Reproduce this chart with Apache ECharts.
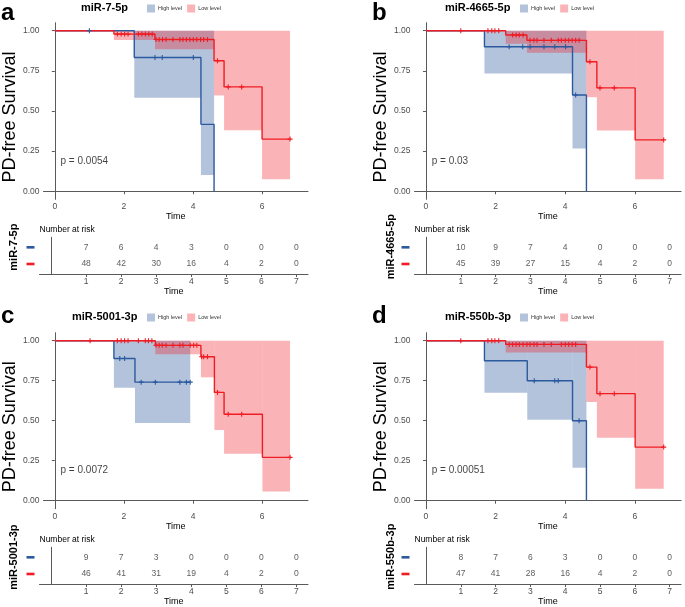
<!DOCTYPE html>
<html><head><meta charset="utf-8">
<script src="https://cdn.jsdelivr.net/npm/echarts@6/dist/echarts.min.js"></script>
<style>html,body{margin:0;padding:0;background:#fff}#c{width:685px;height:607px}</style>
</head><body><div id="c"></div>
<script>
// ---------- data ----------
const panelLetters = ['a', 'b', 'c', 'd'];
const panelTitles = ['miR-7-5p', 'miR-4665-5p', 'miR-5001-3p', 'miR-550b-3p'];
const pValueLabels = ['p = 0.0054', 'p = 0.03', 'p = 0.0072', 'p = 0.00051'];
const levelNames = ['High level', 'Low level'];
const timeTicks = [0, 2, 4, 6];
const survTicks = [0, 0.25, 0.5, 0.75, 1];
const riskTimes = [1, 2, 3, 4, 5, 6, 7];
const pValuePos = [0.15, 0.19];

// panel a (miR-7-5p)
const highTimesA = [0, 2.30, 4.23, 4.61];
const highSurvA = [1, 0.833, 0.417, 0];
const highCensorA = [1.0, 2.90, 3.11, 4.01];
const highBandA = [[2.30, 4.23, 0.582, 1.0], [4.23, 4.61, 0.102, 1.0]];
const lowTimesA = [0, 1.71, 2.90, 4.61, 4.90, 6.00, 6.81];
const lowSurvA = [1, 0.979, 0.945, 0.813, 0.650, 0.325, 0.325];
const lowCensorA = [1.81, 1.92, 2.02, 2.12, 2.42, 2.52, 2.62, 2.72, 2.82, 2.93, 3.02, 3.12, 3.22, 3.42, 3.62, 3.71, 3.81, 3.91, 4.01, 4.11, 4.22, 4.31, 4.42, 4.71, 5.02, 5.41, 6.81];
const lowBandA = [[1.71, 2.90, 0.942, 1.0], [2.90, 4.61, 0.884, 1.0], [4.61, 4.90, 0.597, 1.0], [4.90, 6.00, 0.380, 1.0], [6.00, 6.81, 0.075, 1.0]];
const riskHighA = [7, 6, 4, 3, 0, 0, 0];
const riskLowA = [48, 42, 30, 16, 4, 2, 0];

// panel b (miR-4665-5p)
const highTimesB = [0, 1.68, 4.21, 4.61];
const highSurvB = [1, 0.90, 0.60, 0];
const highCensorB = [2.39, 2.78, 2.99, 3.39, 3.70, 4.01, 4.30];
const highBandB = [[1.68, 4.21, 0.734, 1.0], [4.21, 4.61, 0.266, 1.0]];
const lowTimesB = [0, 2.29, 2.90, 4.61, 4.91, 6.01, 6.83];
const lowSurvB = [1, 0.973, 0.940, 0.807, 0.644, 0.320, 0.320];
const lowCensorB = [1.0, 1.78, 1.89, 1.98, 2.09, 2.49, 2.59, 2.68, 2.79, 2.99, 3.10, 3.19, 3.39, 3.60, 3.80, 3.89, 4.0, 4.10, 4.20, 4.30, 4.40, 4.71, 5.0, 5.41, 6.83];
const lowBandB = [[2.29, 2.90, 0.919, 1.0], [2.90, 4.61, 0.863, 1.0], [4.61, 4.91, 0.586, 1.0], [4.91, 6.01, 0.378, 1.0], [6.01, 6.83, 0.075, 1.0]];
const riskHighB = [10, 9, 7, 4, 0, 0, 0];
const riskLowB = [45, 39, 27, 15, 4, 2, 0];

// panel c (miR-5001-3p)
const highTimesC = [0, 1.71, 2.32, 3.92];
const highSurvC = [1, 0.889, 0.741, 0.741];
const highCensorC = [1.88, 2.02, 2.50, 2.91, 3.62, 3.81, 3.92];
const highBandC = [[1.71, 2.32, 0.706, 1.0], [2.32, 3.92, 0.485, 1.0]];
const lowTimesC = [0, 2.91, 4.23, 4.62, 4.90, 6.01, 6.81];
const lowSurvC = [1, 0.971, 0.900, 0.677, 0.540, 0.271, 0.271];
const lowCensorC = [1.02, 1.81, 1.92, 2.02, 2.12, 2.42, 2.62, 2.71, 2.81, 2.93, 3.02, 3.11, 3.22, 3.42, 3.62, 3.71, 3.92, 4.02, 4.11, 4.25, 4.31, 4.42, 4.71, 5.02, 5.41, 6.81];
const lowBandC = [[2.91, 4.23, 0.915, 1.0], [4.23, 4.62, 0.771, 1.0], [4.62, 4.90, 0.442, 1.0], [4.90, 6.01, 0.294, 1.0], [6.01, 6.81, 0.058, 1.0]];
const riskHighC = [9, 7, 3, 0, 0, 0, 0];
const riskLowC = [46, 41, 31, 19, 4, 2, 0];

// panel d (miR-550b-3p)
const highTimesD = [0, 1.68, 2.91, 4.21, 4.61];
const highSurvD = [1, 0.875, 0.750, 0.500, 0];
const highCensorD = [3.11, 3.70, 3.80, 4.40];
const highBandD = [[1.68, 2.91, 0.675, 1.0], [2.91, 4.21, 0.506, 1.0], [4.21, 4.61, 0.206, 1.0]];
const lowTimesD = [0, 2.29, 4.61, 4.91, 6.01, 6.83];
const lowSurvD = [1, 0.977, 0.835, 0.669, 0.335, 0.335];
const lowCensorD = [1.0, 1.78, 1.89, 1.98, 2.09, 2.39, 2.49, 2.59, 2.68, 2.79, 2.90, 2.99, 3.10, 3.19, 3.39, 3.60, 3.89, 4.0, 4.10, 4.20, 4.30, 4.71, 5.0, 5.41, 6.83];
const lowBandD = [[2.29, 4.61, 0.927, 1.0], [4.61, 4.91, 0.617, 1.0], [4.91, 6.01, 0.394, 1.0], [6.01, 6.83, 0.075, 1.0]];
const riskHighD = [8, 7, 6, 3, 0, 0, 0];
const riskLowD = [47, 41, 28, 16, 4, 2, 0];

// ---------- assemble ----------
const panels = [
  { high: [highTimesA, highSurvA, highCensorA, highBandA, riskHighA], low: [lowTimesA, lowSurvA, lowCensorA, lowBandA, riskLowA] },
  { high: [highTimesB, highSurvB, highCensorB, highBandB, riskHighB], low: [lowTimesB, lowSurvB, lowCensorB, lowBandB, riskLowB] },
  { high: [highTimesC, highSurvC, highCensorC, highBandC, riskHighC], low: [lowTimesC, lowSurvC, lowCensorC, lowBandC, riskLowC] },
  { high: [highTimesD, highSurvD, highCensorD, highBandD, riskHighD], low: [lowTimesD, lowSurvD, lowCensorD, lowBandD, riskLowD] }
];

const layout = [
  { left: 39.5, width: 268.5, top: 22.7, height: 176.6, tTop: 237.3, letterLeft: 1, letterTop: 1, titleLeft: 81, titleTop: 2.5, legLeft: 147, legTop: 4.5, sideGap: 20.5, sideShift: 17 },
  { left: 414.5, width: 266.6, top: 22.7, height: 176.6, tTop: 237.3, letterLeft: 372, letterTop: 1, titleLeft: 445, titleTop: 2.5, legLeft: 520, legTop: 4.5, sideGap: 18, sideShift: 18 },
  { left: 39.5, width: 268.5, top: 332.7, height: 176.0, tTop: 547.3, letterLeft: 1, letterTop: 304, titleLeft: 72, titleTop: 311.5, legLeft: 147, legTop: 313.5, sideGap: 20.5, sideShift: 17 },
  { left: 414.5, width: 266.6, top: 332.7, height: 176.0, tTop: 547.3, letterLeft: 372, letterTop: 304, titleLeft: 445, titleTop: 311.5, legLeft: 520, legTop: 313.5, sideGap: 18, sideShift: 18 }
];

const lineColors = ['#2b5a9e', '#ef1c24'];
const fillColors = ['rgba(43,90,158,0.36)', 'rgba(239,28,36,0.33)'];
const axisColor = '#5a5a5a';
const labelColor = '#4d4d4d';
const FONT = 'Liberation Sans, Arial, Helvetica, sans-serif';
const plusPath = 'path://M0,3.9H10V6.1H0Z M3.9,0H6.1V10H3.9Z';

function survAt(times, surv, t) {
  let v = surv[0];
  for (let i = 0; i < times.length; i++) if (times[i] <= t) v = surv[i];
  return v;
}

function bandRenderer(color) {
  return function (params, api) {
    const p0 = api.coord([api.value(0), api.value(3)]);
    const p1 = api.coord([api.value(1), api.value(2)]);
    return { type: 'rect', shape: { x: p0[0], y: p0[1], width: p1[0] - p0[0], height: p1[1] - p0[1] }, style: { fill: color } };
  };
}

const grids = [], xAxes = [], yAxes = [], series = [], titles = [], legends = [];

layout.forEach((L, i) => {
  grids.push({ left: L.left, top: L.top, width: L.width, height: L.height, containLabel: false });
  grids.push({ left: L.left, top: L.tTop, width: L.width, height: 36.7, containLabel: false });
});

panels.forEach((P, i) => {
  const L = layout[i];
  const gMain = i * 2, gTab = i * 2 + 1;
  const axisLineStyle = { show: true, lineStyle: { color: axisColor, width: 1 } };
  xAxes.push({
    gridIndex: gMain, type: 'value', min: -0.33, max: 7.33,
    axisLine: axisLineStyle,
    axisTick: { show: true, length: 3, customValues: timeTicks, lineStyle: { color: axisColor } },
    axisLabel: { customValues: timeTicks, fontSize: 8.5, color: labelColor, margin: 3, fontFamily: FONT },
    splitLine: { show: false },
    name: 'Time', nameLocation: 'middle', nameGap: 11,
    nameTextStyle: { fontSize: 9, color: '#000', fontFamily: FONT }
  });
  yAxes.push({
    gridIndex: gMain, type: 'value', min: -0.05, max: 1.05,
    axisLine: axisLineStyle,
    axisTick: { show: true, length: 3, customValues: survTicks, lineStyle: { color: axisColor } },
    axisLabel: { customValues: survTicks, fontSize: 8.5, color: labelColor, margin: 4, fontFamily: FONT, formatter: v => v.toFixed(2) },
    splitLine: { show: false },
    name: 'PD-free Survival', nameLocation: 'middle', nameRotate: 90, nameGap: 21,
    nameTextStyle: { fontSize: 18, color: '#000', fontFamily: FONT, padding: [0, 12, 0, 0] }
  });
  xAxes.push({
    gridIndex: gTab, type: 'value', min: -0.33, max: 7.33,
    axisLine: axisLineStyle,
    axisTick: { show: true, length: 3, customValues: riskTimes, lineStyle: { color: axisColor } },
    axisLabel: { customValues: riskTimes, fontSize: 8.5, color: labelColor, margin: 3, fontFamily: FONT },
    splitLine: { show: false },
    name: 'Time', nameLocation: 'middle', nameGap: 11,
    nameTextStyle: { fontSize: 9, color: '#000', fontFamily: FONT }
  });
  yAxes.push({
    gridIndex: gTab, type: 'value', min: 0.4, max: 2.6,
    axisLine: axisLineStyle,
    axisTick: { show: false },
    axisLabel: {
      customValues: [1, 2], margin: 5,
      formatter: v => (v === 2 ? '{h|}' : '{l|}'),
      rich: {
        h: { width: 8, height: 2.6, backgroundColor: lineColors[0] },
        l: { width: 8, height: 2.6, backgroundColor: lineColors[1] }
      }
    },
    splitLine: { show: false },
    name: panelTitles[i], nameLocation: 'middle', nameRotate: 90, nameGap: L.sideGap,
    nameTextStyle: { fontSize: 11, fontWeight: 'bold', color: '#000', fontFamily: FONT, padding: [0, 0, 0, L.sideShift] }
  });

  const groups = [P.high, P.low];
  groups.forEach((G, k) => {
    series.push({
      type: 'custom', name: levelNames[k], xAxisIndex: gMain, yAxisIndex: gMain,
      renderItem: bandRenderer(fillColors[k]), data: G[3],
      encode: { x: [0, 1], y: [2, 3] }, itemStyle: { color: fillColors[k] }, z: 1, silent: true
    });
  });
  groups.forEach((G, k) => {
    series.push({
      type: 'line', name: levelNames[k], xAxisIndex: gMain, yAxisIndex: gMain,
      step: 'end', showSymbol: false, symbol: 'none',
      data: G[0].map((t, j) => [t, G[1][j]]),
      lineStyle: { color: lineColors[k], width: 1.4 }, itemStyle: { color: lineColors[k] }, z: 3
    });
  });
  groups.forEach((G, k) => {
    series.push({
      type: 'scatter', name: levelNames[k], xAxisIndex: gMain, yAxisIndex: gMain,
      symbol: plusPath, symbolSize: 5,
      data: G[2].map(t => [t, survAt(G[0], G[1], t)]),
      itemStyle: { color: lineColors[k], opacity: 1 }, z: 4
    });
  });
  series.push({
    type: 'scatter', xAxisIndex: gMain, yAxisIndex: gMain, symbolSize: 1,
    itemStyle: { color: 'rgba(0,0,0,0)' }, silent: true,
    data: [pValuePos],
    label: { show: true, position: 'right', distance: 0, formatter: pValueLabels[i], fontSize: 10, color: '#111', fontFamily: FONT }
  });
  groups.forEach((G, k) => {
    series.push({
      type: 'scatter', xAxisIndex: gTab, yAxisIndex: gTab, symbolSize: 1,
      itemStyle: { color: 'rgba(0,0,0,0)' }, silent: true,
      data: riskTimes.map((t, j) => [t, 2 - k, G[4][j]]),
      label: { show: true, position: 'inside', formatter: p => String(p.value[2]), fontSize: 8.5, color: '#333', fontFamily: FONT }
    });
  });

  titles.push({ text: panelLetters[i], left: L.letterLeft, top: L.letterTop, padding: 0, textStyle: { fontSize: 24, fontWeight: 'bold', color: '#000', fontFamily: FONT } });
  titles.push({ text: panelTitles[i], left: L.titleLeft, top: L.titleTop, padding: 0, textStyle: { fontSize: 11, fontWeight: 'bold', color: '#000', fontFamily: FONT } });
  titles.push({ text: 'Number at risk', left: L.left, top: L.tTop - 12, padding: 0, textStyle: { fontSize: 8.5, fontWeight: 'normal', color: '#000', fontFamily: FONT } });

  legends.push({
    left: L.legLeft, top: L.legTop, orient: 'horizontal', padding: 0, itemGap: 5,
    itemWidth: 8, itemHeight: 8, icon: 'rect', selectedMode: false,
    textStyle: { fontSize: 5.5, color: '#333', fontFamily: FONT, padding: [0, 0, 0, -2] },
    data: [
      { name: levelNames[0], itemStyle: { color: fillColors[0] } },
      { name: levelNames[1], itemStyle: { color: fillColors[1] } }
    ]
  });
});

const chart = echarts.init(document.getElementById('c'), null, { renderer: 'canvas' });
chart.setOption({
  animation: false,
  backgroundColor: '#fff',
  textStyle: { fontFamily: FONT },
  title: titles,
  legend: legends,
  grid: grids,
  xAxis: xAxes,
  yAxis: yAxes,
  series: series
});
</script>
</body></html>
